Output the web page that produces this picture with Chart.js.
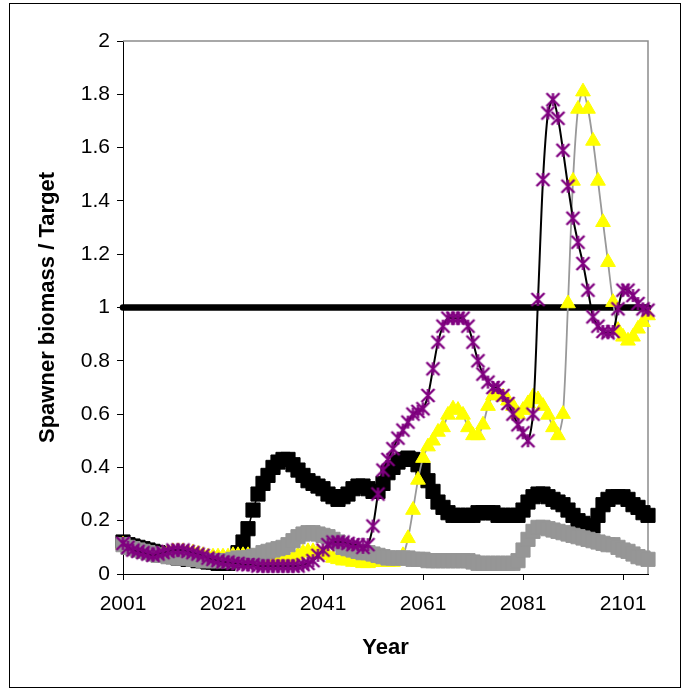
<!DOCTYPE html>
<html>
<head>
<meta charset="utf-8">
<script src="https://cdn.jsdelivr.net/npm/chart.js@4.4.1/dist/chart.umd.min.js"></script>
<style>
  html, body { margin: 0; padding: 0; background: #fff; }
  #wrap { width: 687px; height: 690px; }
</style>
</head>
<body>
<div id="wrap"><canvas id="chart" width="687" height="690"></canvas></div>
<script>
// years on the x axis
const years = [
  2001, 2002, 2003, 2004, 2005, 2006, 2007, 2008, 2009, 2010,
  2011, 2012, 2013, 2014, 2015, 2016, 2017, 2018, 2019, 2020,
  2021, 2022, 2023, 2024, 2025, 2026, 2027, 2028, 2029, 2030,
  2031, 2032, 2033, 2034, 2035, 2036, 2037, 2038, 2039, 2040,
  2041, 2042, 2043, 2044, 2045, 2046, 2047, 2048, 2049, 2050,
  2051, 2052, 2053, 2054, 2055, 2056, 2057, 2058, 2059, 2060,
  2061, 2062, 2063, 2064, 2065, 2066, 2067, 2068, 2069, 2070,
  2071, 2072, 2073, 2074, 2075, 2076, 2077, 2078, 2079, 2080,
  2081, 2082, 2083, 2084, 2085, 2086, 2087, 2088, 2089, 2090,
  2091, 2092, 2093, 2094, 2095, 2096, 2097, 2098, 2099, 2100,
  2101, 2102, 2103, 2104, 2105, 2106
];
const xTickYears = [2001, 2021, 2041, 2061, 2081, 2101];
const yTickValues = [0, 0.2, 0.4, 0.6, 0.8, 1, 1.2, 1.4, 1.6, 1.8, 2];

const targetLevel = 1;

// black squares
const blackSquares = [
  0.12, 0.11, 0.105, 0.10, 0.095, 0.09, 0.085, 0.08, 0.075, 0.07,
  0.065, 0.06, 0.06, 0.055, 0.055, 0.05, 0.05, 0.045, 0.045, 0.04,
  0.04, 0.04, 0.05, 0.08, 0.12, 0.17, 0.24, 0.30, 0.34, 0.37,
  0.40, 0.42, 0.43, 0.43, 0.41, 0.39, 0.37, 0.35, 0.34, 0.33,
  0.32, 0.30, 0.29, 0.28, 0.29, 0.30, 0.32, 0.33, 0.33, 0.32,
  0.31, 0.31, 0.34, 0.38, 0.40, 0.42, 0.43, 0.435, 0.43, 0.41,
  0.39, 0.35, 0.31, 0.27, 0.25, 0.23, 0.22, 0.22, 0.22, 0.22,
  0.22, 0.23, 0.23, 0.23, 0.23, 0.22, 0.22, 0.22, 0.22, 0.22,
  0.24, 0.27, 0.29, 0.30, 0.30, 0.29, 0.28, 0.27, 0.26, 0.24,
  0.22, 0.20, 0.19, 0.18, 0.18, 0.22, 0.26, 0.28, 0.29, 0.29,
  0.29, 0.28, 0.26, 0.25, 0.23, 0.22
];

// grey squares
const greySquares = [
  0.11, 0.10, 0.095, 0.09, 0.085, 0.08, 0.075, 0.07, 0.07, 0.065,
  0.065, 0.06, 0.06, 0.06, 0.055, 0.055, 0.05, 0.05, 0.05, 0.05,
  0.05, 0.05, 0.055, 0.06, 0.06, 0.06, 0.065, 0.07, 0.08, 0.085,
  0.09, 0.095, 0.10, 0.11, 0.125, 0.14, 0.15, 0.155, 0.155, 0.15,
  0.145, 0.14, 0.13, 0.12, 0.10, 0.095, 0.09, 0.085, 0.08, 0.08,
  0.075, 0.07, 0.065, 0.06, 0.06, 0.06, 0.06, 0.06, 0.055, 0.055,
  0.055, 0.05, 0.05, 0.05, 0.05, 0.05, 0.05, 0.05, 0.05, 0.05,
  0.045, 0.04, 0.04, 0.04, 0.04, 0.04, 0.04, 0.04, 0.04, 0.05,
  0.09, 0.13, 0.16, 0.175, 0.175, 0.17, 0.165, 0.16, 0.155, 0.15,
  0.145, 0.14, 0.135, 0.13, 0.125, 0.12, 0.115, 0.11, 0.11, 0.10,
  0.09, 0.085, 0.075, 0.065, 0.06, 0.055
];

// purple asterisks
const purpleStars = [
  0.115, 0.10, 0.09, 0.085, 0.08, 0.075, 0.07, 0.075, 0.08, 0.085,
  0.09, 0.09, 0.09, 0.085, 0.08, 0.075, 0.07, 0.06, 0.055, 0.05,
  0.045, 0.045, 0.04, 0.04, 0.035, 0.035, 0.035, 0.03, 0.03, 0.03,
  0.03, 0.03, 0.03, 0.03, 0.03, 0.03, 0.035, 0.04, 0.05, 0.07,
  0.09, 0.11, 0.12, 0.12, 0.12, 0.115, 0.11, 0.11, 0.10, 0.11,
  0.18, 0.30, 0.39, 0.43, 0.47, 0.51, 0.54, 0.57, 0.60, 0.61,
  0.62, 0.67, 0.77, 0.87, 0.93, 0.96, 0.96, 0.96, 0.96, 0.93,
  0.87, 0.80, 0.75, 0.72, 0.70, 0.70, 0.67, 0.64, 0.60, 0.56,
  0.53, 0.50, 0.60, 1.03, 1.48, 1.73, 1.78, 1.71, 1.59, 1.455,
  1.335, 1.245, 1.165, 1.065, 0.965, 0.93, 0.91, 0.905, 0.91, 0.995,
  1.065, 1.065, 1.045, 1.015, 0.995, 0.99
];

// yellow triangles
const yellowTriangles = [
  0.11, 0.10, 0.09, 0.085, 0.08, 0.075, 0.07, 0.07, 0.075, 0.08,
  0.085, 0.085, 0.085, 0.08, 0.08, 0.075, 0.07, 0.065, 0.065, 0.065,
  0.065, 0.065, 0.07, 0.07, 0.07, 0.07, 0.065, 0.06, 0.055, 0.05,
  0.05, 0.05, 0.05, 0.055, 0.06, 0.07, 0.08, 0.085, 0.085, 0.08,
  0.075, 0.07, 0.06, 0.055, 0.05, 0.05, 0.045, 0.045, 0.04, 0.04,
  0.045, 0.045, 0.045, 0.045, 0.045, 0.05, 0.07, 0.134, 0.24, 0.353,
  0.435, 0.478, 0.50, 0.533, 0.55, 0.597, 0.62, 0.615, 0.597, 0.55,
  0.52, 0.52, 0.56, 0.63, 0.67, 0.67, 0.665, 0.65, 0.63, 0.60,
  0.615, 0.64, 0.665, 0.655, 0.63, 0.597, 0.55, 0.52, 0.60, 1.015,
  1.475, 1.745, 1.81, 1.745, 1.625, 1.475, 1.32, 1.17, 1.02, 0.915,
  0.89, 0.875, 0.89, 0.92, 0.945, 0.97
];

const fontFamily = '"Liberation Sans", Arial, sans-serif';

const toPoints = (vals) => years.map((yr, i) => ({ x: yr, y: vals[i] }));

// Excel style "*" marker: an X with a vertical bar
function asteriskMarker(size, color) {
  const c = document.createElement('canvas');
  c.width = size + 4;
  c.height = size + 4;
  const g = c.getContext('2d');
  const m = c.width / 2, h = size / 2;
  g.strokeStyle = color;
  g.lineWidth = 2.4;
  g.beginPath();
  g.moveTo(m - h, m - h); g.lineTo(m + h, m + h);
  g.moveTo(m + h, m - h); g.lineTo(m - h, m + h);
  g.moveTo(m, m - h); g.lineTo(m, m + h);
  g.stroke();
  return c;
}

const framePlugin = {
  id: 'frame',
  beforeDraw(chart) {
    const ctx = chart.ctx;
    ctx.save();
    ctx.fillStyle = '#fff';
    ctx.fillRect(0, 0, chart.width, chart.height);
    ctx.strokeStyle = '#000';
    ctx.lineWidth = 1;
    ctx.strokeRect(9.5, 3.5, 671, 684);
    ctx.restore();
  },
  beforeDatasetsDraw(chart) {
    const ctx = chart.ctx;
    const a = chart.chartArea;
    ctx.save();
    ctx.strokeStyle = '#8c8c8c';
    ctx.lineWidth = 1.5;
    ctx.beginPath();
    ctx.moveTo(a.left, a.top);
    ctx.lineTo(a.right, a.top);
    ctx.lineTo(a.right, a.bottom);
    ctx.stroke();
    ctx.restore();
  }
};

// lower order = drawn later (on top)
new Chart(document.getElementById('chart'), {
  type: 'line',
  data: {
    datasets: [
      {
        label: 'purple',
        data: toPoints(purpleStars),
        borderColor: '#000',
        borderWidth: 2,
        tension: 0.3,
        pointStyle: asteriskMarker(13, '#800080'),
        pointRadius: 7,
        order: 1,
        clip: false
      },
      {
        label: 'grey',
        data: toPoints(greySquares),
        borderColor: '#969696',
        borderWidth: 1.5,
        tension: 0,
        pointStyle: 'rect',
        pointRadius: 10,
        pointBackgroundColor: '#969696',
        pointBorderColor: '#969696',
        pointBorderWidth: 1,
        order: 2,
        clip: false
      },
      {
        label: 'yellow',
        data: toPoints(yellowTriangles),
        borderColor: '#999999',
        borderWidth: 1.8,
        tension: 0.3,
        pointStyle: 'triangle',
        pointRadius: 8.5,
        pointBackgroundColor: '#ffff00',
        pointBorderColor: '#ffff00',
        pointBorderWidth: 1,
        order: 3,
        clip: false
      },
      {
        label: 'black',
        data: toPoints(blackSquares),
        borderColor: '#000',
        borderWidth: 1.5,
        tension: 0,
        pointStyle: 'rect',
        pointRadius: 10,
        pointBackgroundColor: '#000',
        pointBorderColor: '#000',
        pointBorderWidth: 1,
        order: 4,
        clip: false
      },
      {
        label: 'target',
        data: years.map(yr => ({ x: yr, y: targetLevel })),
        borderColor: '#000',
        borderWidth: 6.5,
        borderCapStyle: 'round',
        pointRadius: 0,
        order: 5,
        clip: false
      }
    ]
  },
  options: {
    responsive: false,
    animation: false,
    events: [],
    layout: { padding: { left: 10, right: 39, top: 41, bottom: 10 } },
    plugins: {
      legend: { display: false },
      tooltip: { enabled: false }
    },
    scales: {
      x: {
        type: 'linear',
        min: 2001,
        max: 2106,
        afterBuildTicks: s => { s.ticks = xTickYears.map(v => ({ value: v })); },
        afterFit: s => { s.height = 106; },
        grid: { drawOnChartArea: false, drawTicks: true, tickLength: 6, color: '#000' },
        border: { display: true, color: '#000', width: 1 },
        ticks: {
          callback: v => String(v),
          autoSkip: false,
          maxRotation: 0,
          padding: 12,
          color: '#000',
          font: { family: fontFamily, size: 21 }
        },
        title: {
          display: true,
          text: 'Year',
          color: '#000',
          font: { family: fontFamily, size: 22, weight: 'bold' },
          padding: { top: 0, bottom: 19 }
        }
      },
      y: {
        min: 0,
        max: 2,
        afterBuildTicks: s => { s.ticks = yTickValues.map(v => ({ value: v })); },
        afterFit: s => { s.width = 113; },
        grid: { drawOnChartArea: false, drawTicks: true, tickLength: 6, color: '#000' },
        border: { display: true, color: '#000', width: 1 },
        ticks: {
          callback: v => String(Number(v.toFixed(1))),
          padding: 7,
          color: '#000',
          font: { family: fontFamily, size: 21 }
        },
        title: {
          display: true,
          text: 'Spawner biomass / Target',
          color: '#000',
          font: { family: fontFamily, size: 22, weight: 'bold' },
          padding: { top: 25, bottom: 0 }
        }
      }
    }
  },
  plugins: [framePlugin]
});
</script>
</body>
</html>
